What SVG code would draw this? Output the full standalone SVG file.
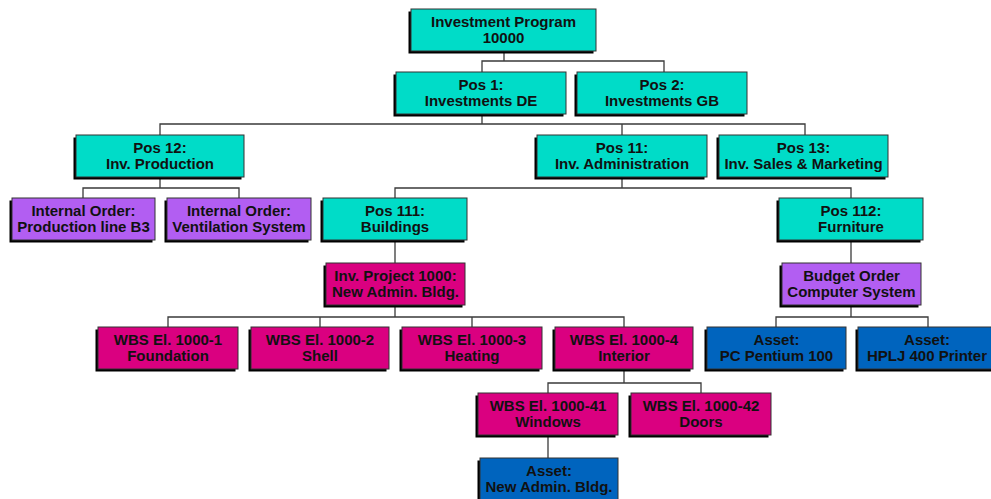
<svg xmlns="http://www.w3.org/2000/svg" width="991" height="499" viewBox="0 0 991 499">
<style>
.sh{fill:#000}
.b{stroke:#333;stroke-width:1}
.teal{fill:#00DCC8}
.purp{fill:#B25EF2}
.mag{fill:#DA0080}
.blue{fill:#0064BE}
text{font-family:"Liberation Sans",Arial,sans-serif;font-weight:bold;font-size:15px;fill:#111;text-anchor:middle}
.c{fill:none;stroke:#3a3a3a;stroke-width:1.3}
</style>
<rect width="991" height="499" fill="#fff"/>
<g id="connectors" class="c">
<path d="M504,51V61M482,72V61H664V72"/>
<path d="M482,114V124M160,135V124H805V135M622,124V135"/>
<path d="M160,177V188M83,198V188H239V198"/>
<path d="M622,177V188M395,198V188H851V198"/>
<path d="M395,240V263"/>
<path d="M851,240V263"/>
<path d="M395,305V317M168,327V317H624V327M320,317V327M472,317V327"/>
<path d="M851,305V317M776,327V317H928V327"/>
<path d="M624,369V383M548,393V383H701V393"/>
<path d="M548,435V458"/>
</g>
<g id="root"><rect class="sh" x="408.5" y="11.5" width="185" height="42"/><rect class="b teal" x="411" y="9" width="185" height="42"/><text x="503.5" y="27">Investment Program</text><text x="503.5" y="43">10000</text></g>
<g id="pos1"><rect class="sh" x="393.5" y="74.5" width="170" height="42"/><rect class="b teal" x="396" y="72" width="170" height="42"/><text x="481" y="90">Pos 1:</text><text x="481" y="106">Investments DE</text></g>
<g id="pos2"><rect class="sh" x="574.5" y="74.5" width="170" height="42"/><rect class="b teal" x="577" y="72" width="170" height="42"/><text x="662" y="90">Pos 2:</text><text x="662" y="106">Investments GB</text></g>
<g id="pos12"><rect class="sh" x="73.5" y="137.5" width="168" height="42"/><rect class="b teal" x="76" y="135" width="168" height="42"/><text x="160" y="153">Pos 12:</text><text x="160" y="169">Inv. Production</text></g>
<g id="pos11"><rect class="sh" x="534.5" y="137.5" width="170" height="42"/><rect class="b teal" x="537" y="135" width="170" height="42"/><text x="622" y="153">Pos 11:</text><text x="622" y="169">Inv. Administration</text></g>
<g id="pos13"><rect class="sh" x="716.5" y="137.5" width="169" height="42"/><rect class="b teal" x="719" y="135" width="169" height="42"/><text x="803.5" y="153">Pos 13:</text><text x="803.5" y="169">Inv. Sales &amp; Marketing</text></g>
<g id="io_b3"><rect class="sh" x="9.5" y="200.5" width="143" height="42"/><rect class="b purp" x="12" y="198" width="143" height="42"/><text x="83.5" y="216">Internal Order:</text><text x="83.5" y="232">Production line B3</text></g>
<g id="io_vent"><rect class="sh" x="164.5" y="200.5" width="144" height="42"/><rect class="b purp" x="167" y="198" width="144" height="42"/><text x="239" y="216">Internal Order:</text><text x="239" y="232">Ventilation System</text></g>
<g id="pos111"><rect class="sh" x="320.5" y="200.5" width="144" height="42"/><rect class="b teal" x="323" y="198" width="144" height="42"/><text x="395" y="216">Pos 111:</text><text x="395" y="232">Buildings</text></g>
<g id="pos112"><rect class="sh" x="776.5" y="200.5" width="144" height="42"/><rect class="b teal" x="779" y="198" width="144" height="42"/><text x="851" y="216">Pos 112:</text><text x="851" y="232">Furniture</text></g>
<g id="invproj"><rect class="sh" x="323.5" y="265.5" width="139" height="42"/><rect class="b mag" x="326" y="263" width="139" height="42"/><text x="395.5" y="281">Inv. Project 1000:</text><text x="395.5" y="297">New Admin. Bldg.</text></g>
<g id="budget"><rect class="sh" x="779.5" y="265.5" width="139" height="42"/><rect class="b purp" x="782" y="263" width="139" height="42"/><text x="851.5" y="281">Budget Order</text><text x="851.5" y="297">Computer System</text></g>
<g id="wbs1"><rect class="sh" x="95.5" y="329.5" width="140" height="42"/><rect class="b mag" x="98" y="327" width="140" height="42"/><text x="168" y="345">WBS El. 1000-1</text><text x="168" y="361">Foundation</text></g>
<g id="wbs2"><rect class="sh" x="248.5" y="329.5" width="138" height="42"/><rect class="b mag" x="251" y="327" width="138" height="42"/><text x="320" y="345">WBS El. 1000-2</text><text x="320" y="361">Shell</text></g>
<g id="wbs3"><rect class="sh" x="399.5" y="329.5" width="140" height="42"/><rect class="b mag" x="402" y="327" width="140" height="42"/><text x="472" y="345">WBS El. 1000-3</text><text x="472" y="361">Heating</text></g>
<g id="wbs4"><rect class="sh" x="552.5" y="329.5" width="138" height="42"/><rect class="b mag" x="555" y="327" width="138" height="42"/><text x="624" y="345">WBS El. 1000-4</text><text x="624" y="361">Interior</text></g>
<g id="asset_pc"><rect class="sh" x="704.5" y="329.5" width="139" height="42"/><rect class="b blue" x="707" y="327" width="139" height="42"/><text x="776.5" y="345">Asset:</text><text x="776.5" y="361">PC Pentium 100</text></g>
<g id="asset_hplj"><rect class="sh" x="855.5" y="329.5" width="140" height="42"/><rect class="b blue" x="858" y="327" width="140" height="42"/><text x="927" y="345">Asset:</text><text x="927" y="361">HPLJ 400 Printer</text></g>
<g id="wbs41"><rect class="sh" x="475.5" y="395.5" width="140" height="42"/><rect class="b mag" x="478" y="393" width="140" height="42"/><text x="548" y="411">WBS El. 1000-41</text><text x="548" y="427">Windows</text></g>
<g id="wbs42"><rect class="sh" x="628.5" y="395.5" width="140" height="42"/><rect class="b mag" x="631" y="393" width="140" height="42"/><text x="701" y="411">WBS El. 1000-42</text><text x="701" y="427">Doors</text></g>
<g id="asset_new"><rect class="sh" x="477.5" y="460.5" width="138" height="42"/><rect class="b blue" x="480" y="458" width="138" height="42"/><text x="549" y="476">Asset:</text><text x="549" y="492">New Admin. Bldg.</text></g>
</svg>
